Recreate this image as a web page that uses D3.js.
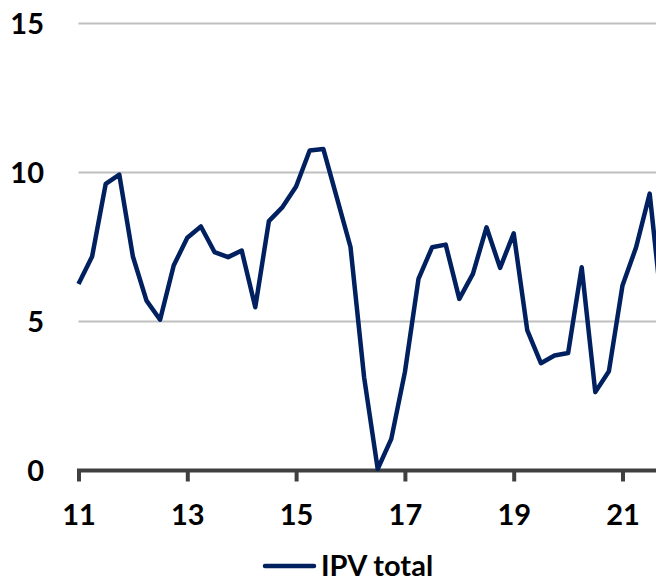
<!DOCTYPE html>
<html>
<head>
<meta charset="utf-8">
<script src="https://cdn.jsdelivr.net/npm/d3@7"></script>
<style>
  body { margin: 0; background: #fff; }
  svg { display: block; }
  .lbl { font-family: Lato, "Open Sans", sans-serif; font-weight: bold; font-size: 29px; fill: #000; }
</style>
</head>
<body>
<div id="chart"></div>
<script>
// quarterly points, 2011Q1 .. 2021Q4
var quarters = [
  "2011Q1","2011Q2","2011Q3","2011Q4","2012Q1","2012Q2","2012Q3","2012Q4",
  "2013Q1","2013Q2","2013Q3","2013Q4","2014Q1","2014Q2","2014Q3","2014Q4",
  "2015Q1","2015Q2","2015Q3","2015Q4","2016Q1","2016Q2","2016Q3","2016Q4",
  "2017Q1","2017Q2","2017Q3","2017Q4","2018Q1","2018Q2","2018Q3","2018Q4",
  "2019Q1","2019Q2","2019Q3","2019Q4","2020Q1","2020Q2","2020Q3","2020Q4",
  "2021Q1","2021Q2","2021Q3","2021Q4"
];
var ipvTotal = [
  6.26, 7.18, 9.62, 9.93, 7.18, 5.70, 5.06, 6.88,
  7.81, 8.19, 7.33, 7.16, 7.38, 5.48, 8.37, 8.84,
  9.53, 10.74, 10.79, 9.15, 7.50, 3.13, 0.05, 1.06,
  3.30, 6.43, 7.49, 7.58, 5.76, 6.60, 8.16, 6.80,
  7.96, 4.70, 3.60, 3.86, 3.94, 6.82, 2.63, 3.33,
  6.21, 7.49, 9.29, 5.00
];
var xTicks = ["2011Q1","2013Q1","2015Q1","2017Q1","2019Q1","2021Q1"];
var yTicks = [0, 5, 10, 15];
var seriesName = "IPV total";

var W = 656, H = 581;
var x0 = 78.5, step = 13.6;

var svg = d3.select("#chart").append("svg")
  .attr("width", W)
  .attr("height", H);

var x = d3.scalePoint()
  .domain(quarters)
  .range([x0, x0 + step * (quarters.length - 1)]);

var y = d3.scaleLinear()
  .domain([0, 15])
  .range([470.5, 23.5]);

// gridlines
svg.append("g")
  .selectAll("line")
  .data(yTicks.filter(function(d) { return d > 0; }))
  .enter().append("line")
  .attr("x1", x0)
  .attr("x2", W + 20)
  .attr("y1", function(d) { return y(d); })
  .attr("y2", function(d) { return y(d); })
  .attr("stroke", "#bfbfbf")
  .attr("stroke-width", 2);

// y labels
svg.append("g")
  .selectAll("text")
  .data(yTicks)
  .enter().append("text")
  .attr("class", "lbl")
  .attr("x", 44)
  .attr("y", function(d) { return y(d); })
  .attr("dy", "0.36em")
  .attr("text-anchor", "end")
  .text(function(d) { return d; });

// x axis
var xAxis = svg.append("g")
  .attr("transform", "translate(0," + y(0) + ")")
  .call(d3.axisBottom(x)
    .tickValues(xTicks)
    .tickSize(11)
    .tickSizeOuter(0)
    .tickPadding(23)
    .tickFormat(function(d) { return d.slice(2, 4); }));

xAxis.select(".domain")
  .attr("d", "M" + (x0 - 1.5) + ",0H" + (W + 20))
  .attr("stroke", "#404040")
  .attr("stroke-width", 4);
xAxis.selectAll(".tick line")
  .attr("stroke", "#404040")
  .attr("stroke-width", 4);
xAxis.selectAll(".tick text")
  .attr("class", "lbl")
  .attr("fill", "#000");

// the series
var line = d3.line()
  .x(function(d, i) { return x(quarters[i]); })
  .y(function(d) { return y(d); });

svg.append("path")
  .datum(ipvTotal)
  .attr("fill", "none")
  .attr("stroke", "#002060")
  .attr("stroke-width", 4.5)
  .attr("stroke-linejoin", "round")
  .attr("d", line);

// legend
var legend = svg.append("g")
  .attr("transform", "translate(265,566)");

legend.append("line")
  .attr("x1", 0)
  .attr("x2", 49)
  .attr("stroke", "#002060")
  .attr("stroke-width", 4.5)
  .attr("stroke-linecap", "round");

legend.append("text")
  .attr("class", "lbl")
  .attr("x", 56)
  .attr("y", 10)
  .text(seriesName);
</script>
</body>
</html>
